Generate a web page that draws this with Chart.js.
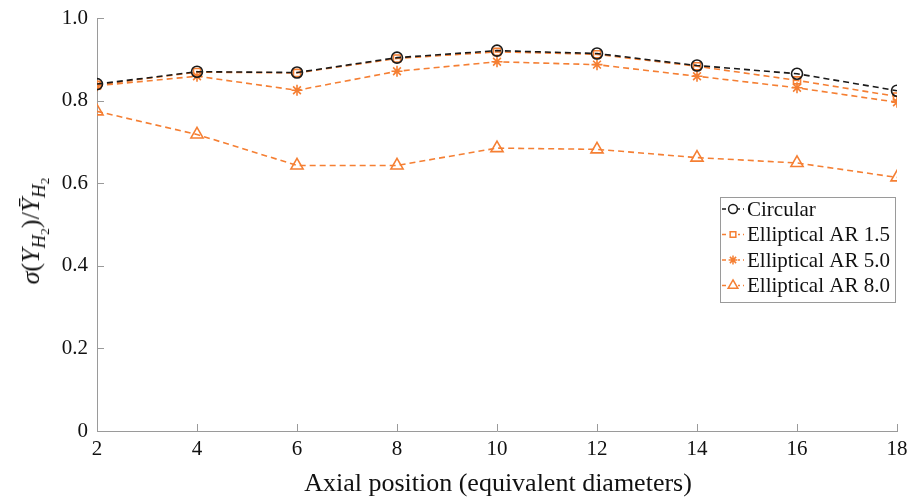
<!DOCTYPE html>
<html>
<head>
<meta charset="utf-8">
<script src="https://cdn.jsdelivr.net/npm/chart.js@4/dist/chart.umd.min.js"></script>
<style>
  html, body { margin: 0; padding: 0; background: #fff; }
  #wrap { position: relative; width: 908px; height: 500px; }
  #chart { position: absolute; left: 0; top: 0; }
  .axis-title {
    position: absolute;
    font-family: 'Liberation Serif', 'Times New Roman', serif;
    color: #111;
    white-space: nowrap;
  }
  #xTitle { left: 0; width: 908px; top: 468px; text-align: center; font-size: 26px; line-height: 30px; padding-left: 88px; box-sizing: border-box; }
  #yTitle { left: 31px; top: 231px; font-size: 26px; line-height: 30px; transform: translate(-50%, -50%) rotate(-90deg); }
  #yTitle sub { font-size: 0.72em; vertical-align: -0.32em; line-height: 0; }
</style>
</head>
<body>
<div id="wrap">
  <canvas id="chart" width="908" height="500"></canvas>
  <div id="xTitle" class="axis-title">Axial position (equivalent diameters)</div>
  <div id="yTitle" class="axis-title"><i>σ</i>(<i>Y</i><sub><i>H</i><sub>2</sub></sub>)/<i>Ȳ</i><sub><i>H</i><sub>2</sub></sub></div>
</div>
<script>
'use strict';

// ─── Data ────────────────────────────────────────────────────────────────────
const positions   = [2, 4, 6, 8, 10, 12, 14, 16, 18];
const circular    = [0.840, 0.870, 0.868, 0.904, 0.921, 0.914, 0.885, 0.865, 0.824];
const ellipAR15   = [0.838, 0.869, 0.867, 0.902, 0.918, 0.912, 0.883, 0.849, 0.810];
const ellipAR50   = [0.836, 0.859, 0.825, 0.871, 0.894, 0.887, 0.859, 0.831, 0.796];
const ellipAR80   = [0.774, 0.718, 0.643, 0.643, 0.685, 0.682, 0.662, 0.649, 0.614];
const seriesNames = ['Circular', 'Elliptical AR 1.5', 'Elliptical AR 5.0', 'Elliptical AR 8.0'];
const yTicks      = [0, 0.2, 0.4, 0.6, 0.8, 1.0];
const xTicks      = [2, 4, 6, 8, 10, 12, 14, 16, 18];

const BLACK  = '#1a1a1a';
const ORANGE = '#f57f33';
const SERIF  = "'Liberation Serif', 'Times New Roman', serif";
const AXIS   = '#9a9a9a';

function makeSet(label, values, color, style, radius) {
  return {
    label,
    data:                 positions.map((x, i) => ({ x, y: values[i] })),
    borderColor:          color,
    borderWidth:          1.6,
    borderDash:           [6, 4],
    pointStyle:           style,
    pointRadius:          radius,
    pointBorderColor:     color,
    pointBorderWidth:     1.6,
    pointBackgroundColor: 'rgba(255,255,255,0)',
    fill:                 false,
    tension:              0,
  };
}

// ─── Inward tick marks ───────────────────────────────────────────────────────
const innerTicks = {
  id: 'innerTicks',
  afterDraw(chart) {
    const { ctx, chartArea: a, scales: { x, y } } = chart;
    ctx.save();
    ctx.strokeStyle = AXIS;
    ctx.lineWidth = 1;
    ctx.beginPath();
    yTicks.slice(1).forEach(v => {
      const py = Math.round(y.getPixelForValue(v)) + 0.5;
      ctx.moveTo(a.left, py);
      ctx.lineTo(a.left + 7, py);
    });
    xTicks.slice(1).forEach(v => {
      const px = Math.round(x.getPixelForValue(v)) + 0.5;
      ctx.moveTo(px, a.bottom);
      ctx.lineTo(px, a.bottom - 7);
    });
    ctx.stroke();
    ctx.restore();
  },
};

// ─── Legend box inside plot ──────────────────────────────────────────────────
const boxLegend = {
  id: 'boxLegend',
  afterDraw(chart) {
    const { ctx } = chart;
    const left = 720, top = 197, width = 175, height = 105, rowH = 25.5;
    ctx.save();
    ctx.fillStyle = '#fff';
    ctx.fillRect(left, top, width, height);
    ctx.strokeStyle = AXIS;
    ctx.lineWidth = 1;
    ctx.strokeRect(left + 0.5, top + 0.5, width, height);

    chart.data.datasets.forEach((ds, i) => {
      const cy = top + 12 + i * rowH;
      ctx.strokeStyle = ds.borderColor;
      ctx.lineWidth = 1.5;
      ctx.setLineDash([4, 3]);
      ctx.beginPath();
      ctx.moveTo(left + 2, cy);
      ctx.lineTo(left + 24, cy);
      ctx.stroke();
      ctx.setLineDash([]);
      ctx.fillStyle = '#fff';
      ctx.fillRect(left + 8, cy - 5, 10, 10);
      Chart.helpers.drawPoint(ctx, {
        pointStyle: ds.pointStyle,
        radius: ds.pointRadius * 0.8,
        borderWidth: 1.4,
        rotation: 0,
      }, left + 13, cy);

      ctx.fillStyle = '#111';
      ctx.font = '21px ' + SERIF;
      ctx.textBaseline = 'middle';
      ctx.textAlign = 'left';
      ctx.fillText(ds.label, left + 27, cy + 1);
    });
    ctx.restore();
  },
};

new Chart(document.getElementById('chart').getContext('2d'), {
  type: 'line',
  data: {
    datasets: [
      makeSet(seriesNames[0], circular,  BLACK,  'circle',   5.5),
      makeSet(seriesNames[1], ellipAR15, ORANGE, 'rect',     5),
      makeSet(seriesNames[2], ellipAR50, ORANGE, 'star',     5.5),
      makeSet(seriesNames[3], ellipAR80, ORANGE, 'triangle', 7),
    ],
  },
  options: {
    responsive: false,
    animation:  false,
    layout: { padding: { left: 0, right: 11, top: 18, bottom: 0 } },
    plugins: {
      legend:  { display: false },
      tooltip: { enabled: false },
    },
    scales: {
      x: {
        type: 'linear',
        min: 2, max: 18,
        grid:   { display: false, drawTicks: false },
        border: { display: true, color: AXIS, width: 1 },
        afterBuildTicks: (s) => { s.ticks = xTicks.map(v => ({ value: v })); },
        afterFit: (s) => { s.height = 69; s.paddingLeft = 0; s.paddingRight = 0; },
        ticks: {
          color: '#111',
          padding: 6,
          maxRotation: 0,
          font: { family: SERIF, size: 21 },
          callback: (v) => String(v),
        },
      },
      y: {
        min: 0, max: 1,
        grid:   { display: false, drawTicks: false },
        border: { display: true, color: AXIS, width: 1 },
        afterBuildTicks: (s) => { s.ticks = yTicks.map(v => ({ value: v })); },
        afterFit: (s) => { s.width = 97; s.paddingTop = 0; s.paddingBottom = 0; },
        ticks: {
          color: '#111',
          padding: 9,
          font: { family: SERIF, size: 21 },
          callback: (v) => (v === 0 ? '0' : v.toFixed(1)),
        },
      },
    },
  },
  plugins: [innerTicks, boxLegend],
});
</script>
</body>
</html>
